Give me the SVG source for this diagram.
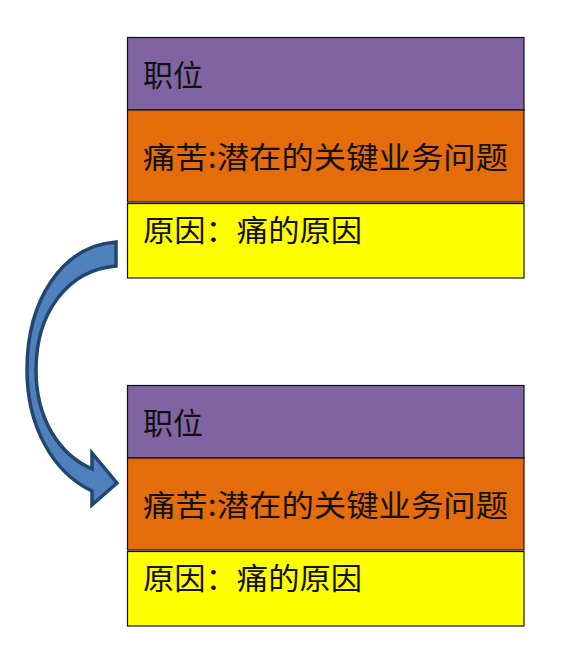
<svg xmlns="http://www.w3.org/2000/svg" width="588" height="659" viewBox="0 0 588 659">
<style>
.t{font-family:"Noto Sans CJK SC","Noto Sans",sans-serif;font-size:30px;fill:#111;}
.p{fill:#8064A2;stroke:#111;stroke-width:1.2;}
.o{fill:#E46C0A;stroke:#111;stroke-width:1.2;}
.y{fill:#FFFF00;stroke:#111;stroke-width:1.2;}
.arrow{fill:#4F81BD;stroke:#23466F;stroke-width:3.5;stroke-linejoin:miter;}
</style>
<rect width="588" height="659" fill="#ffffff"/>
<g id="node-top">
<rect class="p" x="127.5" y="37.5" width="396.5" height="72.5"/>
<rect class="o" x="127.5" y="110" width="396.5" height="92"/>
<rect class="y" x="127.5" y="203.5" width="396.5" height="74.5"/>
<text class="t" x="143" y="86">职位</text>
<text class="t" x="143" y="168" textLength="365" lengthAdjust="spacingAndGlyphs">痛苦:潜在的关键业务问题</text>
<text class="t" x="143" y="241" textLength="219" lengthAdjust="spacingAndGlyphs">原因：痛的原因</text>
</g>
<g id="node-bottom">
<rect class="p" x="127.5" y="385.5" width="396.5" height="72.5"/>
<rect class="o" x="127.5" y="458" width="396.5" height="92"/>
<rect class="y" x="127.5" y="551.5" width="396.5" height="74.5"/>
<text class="t" x="143" y="434">职位</text>
<text class="t" x="143" y="516" textLength="365" lengthAdjust="spacingAndGlyphs">痛苦:潜在的关键业务问题</text>
<text class="t" x="143" y="589" textLength="219" lengthAdjust="spacingAndGlyphs">原因：痛的原因</text>
</g>
<g id="connectors">
<path class="arrow" d="M116,242 C62,246 27,300 27,370 C27,425 52,472 92,491 L92,505 L117,483 L92,453 L92,469 C60,455 36,420 36,370 C36,312 68,270 116,266 Z"/>
</g>
</svg>
